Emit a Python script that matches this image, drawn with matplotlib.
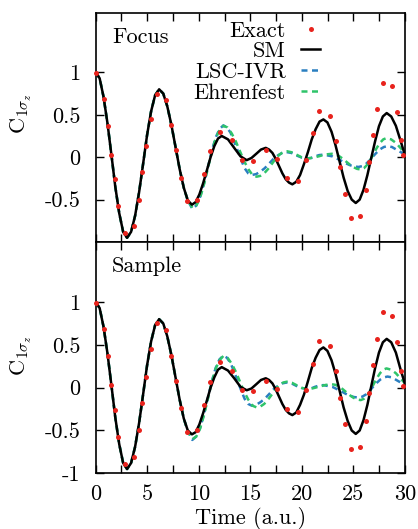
import matplotlib.pyplot as plt

plt.rcParams['font.family'] = 'cmr10'
plt.rcParams['mathtext.fontset'] = 'cm'
plt.rcParams['axes.unicode_minus'] = False
plt.rcParams['font.size'] = 16

# exact data (same points in both panels)
t_exact = [0.0, 0.81, 1.22, 1.51, 1.87, 2.19, 2.87, 3.71, 4.17, 4.49,
           4.88, 5.33, 5.92, 6.82, 7.31, 7.80, 8.27, 8.88, 9.85, 10.53,
           11.12, 12.06, 13.19, 14.16, 15.29, 16.49, 17.62, 18.59, 19.65, 20.40,
           21.05, 21.69, 22.73, 23.31, 23.70, 24.18, 24.76, 25.67, 26.22, 26.54,
           26.93, 27.32, 27.90, 28.71, 29.26, 29.58, 29.84]
c_exact = [0.99, 0.68, 0.37, 0.03, -0.26, -0.58, -0.89, -0.81, -0.50, -0.18,
           0.13, 0.45, 0.75, 0.67, 0.375, 0.08, -0.24, -0.52, -0.50, -0.20,
           0.07, 0.30, 0.20, -0.03, -0.04, 0.08, -0.02, -0.25, -0.28, -0.03,
           0.28, 0.54, 0.49, 0.19, -0.12, -0.43, -0.72, -0.69, -0.39, -0.06,
           0.26, 0.57, 0.88, 0.84, 0.53, 0.20, 0.02]

# SM
t_sm = [0.0, 0.38, 0.76, 1.14, 1.52, 1.90, 2.28, 2.66, 3.04,
        3.43, 3.82, 4.21, 4.60, 4.98, 5.37, 5.76, 6.15,
        6.55, 6.94, 7.34, 7.74, 8.14, 8.54, 8.93, 9.33,
        9.69, 10.05, 10.41, 10.78, 11.14, 11.50, 11.86, 12.22,
        12.83, 13.43, 14.04, 14.64,
        15.10, 15.57, 16.03, 16.49,
        16.81, 17.14, 17.46, 17.78, 18.10, 18.43, 18.75, 19.07,
        19.45, 19.82, 20.20, 20.58, 20.95, 21.33, 21.71, 22.08,
        22.47, 22.87, 23.26, 23.65, 24.04, 24.44, 24.83, 25.22,
        25.60, 25.97, 26.35, 26.72, 27.10, 27.47, 27.85, 28.22,
        28.66, 29.11, 29.55, 30.00]
c_sm_focus = [1.00, 0.93, 0.71, 0.40, 0.03, -0.35, -0.66, -0.88, -0.95,
              -0.88, -0.69, -0.41, -0.075, 0.26, 0.54, 0.73, 0.80,
              0.75, 0.60, 0.38, 0.12, -0.14, -0.36, -0.51, -0.56,
              -0.53, -0.44, -0.31, -0.155, 0.00, 0.13, 0.22, 0.25,
              0.21, 0.11, 0.01, -0.035,
              -0.01, 0.04, 0.09, 0.11,
              0.09, 0.05, -0.02, -0.105, -0.19, -0.26, -0.30, -0.32,
              -0.29, -0.21, -0.08, 0.06, 0.21, 0.33, 0.42, 0.445,
              0.41, 0.30, 0.14, -0.05, -0.24, -0.40, -0.50, -0.54,
              -0.50, -0.385, -0.21, -0.01, 0.19, 0.365, 0.48, 0.52,
              0.48, 0.37, 0.20, 0.02]
c_sm_sample = [1.00, 0.93, 0.71, 0.40, 0.03, -0.35, -0.66, -0.88, -0.95,
               -0.88, -0.69, -0.41, -0.075, 0.26, 0.54, 0.73, 0.80,
               0.75, 0.60, 0.38, 0.12, -0.14, -0.36, -0.50, -0.545,
               -0.52, -0.43, -0.30, -0.15, 0.00, 0.12, 0.21, 0.24,
               0.20, 0.11, 0.01, -0.03,
               -0.01, 0.04, 0.09, 0.11,
               0.09, 0.05, -0.02, -0.105, -0.19, -0.26, -0.30, -0.32,
               -0.29, -0.20, -0.08, 0.075, 0.23, 0.35, 0.44, 0.47,
               0.43, 0.32, 0.16, -0.035, -0.23, -0.39, -0.50, -0.54,
               -0.50, -0.38, -0.20, 0.015, 0.23, 0.41, 0.53, 0.57,
               0.53, 0.41, 0.22, 0.04]

# LSC-IVR and Ehrenfest follow SM up to t ~ 9
t_lsc = t_sm[:24] + [9.37, 9.75, 10.12, 10.50, 10.88, 11.25, 11.63, 12.00, 12.38,
                     12.72, 13.07, 13.41, 13.76, 14.10, 14.44, 14.79, 15.13,
                     15.55, 15.97, 16.39, 16.82, 17.24, 17.66, 18.08, 18.50,
                     18.99, 19.48, 19.97, 20.46, 20.87, 21.27, 21.68, 22.08,
                     22.51, 22.94, 23.36, 23.79, 24.22, 24.65, 25.07, 25.50,
                     25.85, 26.20, 26.55, 26.90, 27.25, 27.60, 27.95, 28.30,
                     28.73, 29.15, 29.58, 30.00]
c_lsc = c_sm_focus[:24] + [-0.61, -0.57, -0.47, -0.31, -0.12, 0.07, 0.23, 0.33, 0.375,
                           0.35, 0.29, 0.19, 0.08, -0.03, -0.13, -0.19, -0.21,
                           -0.20, -0.17, -0.13, -0.075, -0.02, 0.02, 0.05, 0.06,
                           0.05, 0.02, -0.004, -0.015, -0.01, 0.01, 0.025, 0.03,
                           0.02, 0.01, -0.015, -0.04, -0.07, -0.094, -0.11, -0.115,
                           -0.105, -0.08, -0.04, 0.01, 0.055, 0.095, 0.12, 0.13,
                           0.12, 0.09, 0.06, 0.03]

t_ehr = t_sm[:24] + [9.40, 9.75, 10.12, 10.50, 10.88, 11.25, 11.63, 12.00, 12.38,
                     12.78, 13.19, 13.59, 13.99, 14.39, 14.80, 15.20, 15.60,
                     15.97, 16.34, 16.71, 17.08, 17.44, 17.81, 18.18, 18.55,
                     19.03, 19.50, 19.98, 20.46, 21.07, 21.68, 22.29, 22.90,
                     23.25, 23.60, 23.95, 24.30, 24.65, 25.00, 25.35, 25.70,
                     26.01, 26.33, 26.64, 26.95, 27.26, 27.58, 27.89, 28.20,
                     28.65, 29.10, 29.55, 30.00]
c_ehr = c_sm_focus[:24] + [-0.60, -0.57, -0.48, -0.32, -0.13, 0.06, 0.22, 0.32, 0.37,
                           0.35, 0.28, 0.185, 0.07, -0.045, -0.14, -0.21, -0.23,
                           -0.22, -0.19, -0.14, -0.08, -0.02, 0.03, 0.06, 0.07,
                           0.057, 0.028, -0.002, -0.015, -0.007, 0.012, 0.032, 0.04,
                           0.033, 0.013, -0.017, -0.053, -0.088, -0.118, -0.138, -0.145,
                           -0.13, -0.09, -0.03, 0.04, 0.11, 0.17, 0.21, 0.225,
                           0.21, 0.17, 0.11, 0.05]

y_ticks = [-1, -0.5, 0, 0.5, 1]
x_ticks = [0, 5, 10, 15, 20, 25, 30]

red = '#e8231d'
blue = '#2a7fc0'
green = '#2fc46a'

fig = plt.figure(figsize=(4.18, 5.29), dpi=100)
ax_top = fig.add_axes([0.229, 0.5425, 0.740, 0.433])
ax_bot = fig.add_axes([0.229, 0.1053, 0.740, 0.437])


def draw_panel(ax, c_sm, name):
    l_lsc, = ax.plot(t_lsc, c_lsc, color=blue, lw=1.8, dashes=(2.4, 1.8))
    l_ehr, = ax.plot(t_ehr, c_ehr, color=green, lw=1.8, dashes=(2.4, 1.8))
    l_sm, = ax.plot(t_sm, c_sm, color='black', lw=1.8)
    l_ex, = ax.plot(t_exact, c_exact, 'o', color=red, ms=3.6, mew=0, clip_on=False, zorder=5)
    ax.set_xlim(0, 30)
    ax.set_ylim(-1, 1.7)
    ax.set_xticks(x_ticks)
    ax.set_xticks([2.5, 7.5, 12.5, 17.5, 22.5, 27.5], minor=True)
    ax.set_yticks(y_ticks)
    ax.tick_params(which='both', direction='in', top=True, right=True,
                   length=5.5, width=1.0)
    ax.tick_params(axis='y', pad=11)
    ax.tick_params(axis='x', pad=8)
    for s in ax.spines.values():
        s.set_linewidth(1.2)
    ax.set_ylabel(r'C$_{1\sigma_z}$')
    ax.yaxis.label.set_va('center')
    ax.text(0.052, 0.87, name, transform=ax.transAxes, ha='left', va='baseline')
    return l_ex, l_sm, l_lsc, l_ehr


handles = draw_panel(ax_top, c_sm_focus, 'Focus')
ax_top.set_yticklabels(['', '-0.5', '0', '0.5', '1'])
ax_top.set_xticklabels([])
ax_top.yaxis.set_label_coords(-0.24, 0.559)
ax_top.legend(handles, ['Exact', 'SM', 'LSC-IVR', 'Ehrenfest'], loc='upper right',
              bbox_to_anchor=(0.726, 0.965), markerfirst=False, frameon=False,
              borderpad=0, borderaxespad=0, handlelength=0.85, handletextpad=0.7,
              labelspacing=0.05, numpoints=1)

draw_panel(ax_bot, c_sm_sample, 'Sample')
ax_bot.set_yticklabels(['-1', '-0.5', '0', '0.5', '1'])
ax_bot.set_xticklabels(['0', '5', '10', '15', '20', '25', '30'])
ax_bot.yaxis.set_label_coords(-0.24, 0.511)
ax_bot.set_xlabel('Time (a.u.)', labelpad=2)

fig.savefig('out.png', dpi=100)
